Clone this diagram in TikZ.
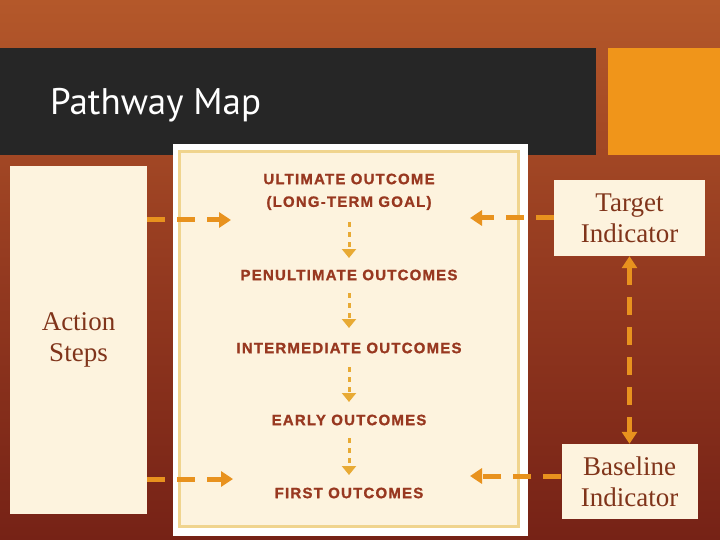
\documentclass[tikz,border=0pt]{standalone}
\usepackage{fontspec}
\setmainfont{Liberation Serif}
\newfontfamily\titlefont{PT Sans}
\newfontfamily\outfont[LetterSpace=8,FakeBold=1.2]{Liberation Sans Bold}
\usetikzlibrary{arrows.meta}
\definecolor{bgtop}{RGB}{180,88,42}
\definecolor{bgmid}{RGB}{148,58,32}
\definecolor{bgbot}{RGB}{118,34,22}
\definecolor{titlebar}{RGB}{38,38,38}
\definecolor{accent}{RGB}{240,149,26}
\definecolor{cream}{RGB}{253,243,222}
\definecolor{innerborder}{RGB}{240,212,142}
\definecolor{outred}{RGB}{152,56,32}
\definecolor{boxtext}{RGB}{128,52,26}
\definecolor{arroworange}{RGB}{232,146,30}
\definecolor{arrowgold}{RGB}{232,170,52}
\tikzset{
  outcome/.style={font=\outfont\fontsize{15}{17}\selectfont, text=outred, inner sep=0pt},
  infobox/.style={fill=cream, text=boxtext, font=\fontsize{27}{31}\selectfont, align=center, inner sep=0pt},
  bigarrow/.style={draw=arroworange, line width=5pt, dash pattern=on 18pt off 12pt, -{Triangle[length=12pt,width=15pt]}},
  smallarrow/.style={draw=arrowgold, line width=3pt, dash pattern=on 5pt off 5pt, -{Triangle[length=9pt,width=14pt]}}
}
\begin{document}
\begin{tikzpicture}[x=1pt,y=-1pt]
\useasboundingbox (0,0) rectangle (720,540);
% background
\fill[top color=bgtop, bottom color=bgbot, middle color=bgmid] (0,0) rectangle (720,540);
% title bar and accent
\fill[titlebar] (0,48) rectangle (596,155);
\fill[accent] (608,48) rectangle (720,155);
\node[anchor=base west, inner sep=0pt, text=white, font=\titlefont\fontsize{37}{42}\selectfont] (title) at (50,115) {Pathway Map};
% central panel
\fill[white] (173,144) rectangle (528,536);
\filldraw[fill=cream, draw=innerborder, line width=3pt] (179.5,151.5) rectangle (518.5,526.5);
% outcomes
\node[outcome] (ult) at (349,179) {ULTIMATE OUTCOME};
\node[outcome] (goal) at (349,203) {(LONG-TERM GOAL)};
\node[outcome] (penult) at (349,275) {PENULTIMATE OUTCOMES};
\node[outcome] (inter) at (349,348) {INTERMEDIATE OUTCOMES};
\node[outcome] (early) at (349,420) {EARLY OUTCOMES};
\node[outcome] (first) at (349,493) {FIRST OUTCOMES};
\draw[smallarrow] ([yshift=-19pt]goal.center) -- ([yshift=17pt]penult.center);
\draw[smallarrow] ([yshift=-18pt]penult.center) -- ([yshift=20pt]inter.center);
\draw[smallarrow] ([yshift=-19pt]inter.center) -- ([yshift=18pt]early.center);
\draw[smallarrow] ([yshift=-18pt]early.center) -- ([yshift=18pt]first.center);
% side boxes
\node[infobox, minimum width=137pt, minimum height=348pt] (action) at (78.5,340) {Action\\Steps};
\node[infobox, minimum width=151pt, minimum height=76pt] (target) at (629.5,218) {Target\\Indicator};
\node[infobox, minimum width=136pt, minimum height=75pt] (baseline) at (629.5,481.5) {Baseline\\Indicator};
% connectors
\coordinate (tl) at (231,220);
\coordinate (tr) at (470,218);
\coordinate (bl) at (233,479);
\coordinate (br) at (470,476);
\draw[bigarrow] (action.east |- tl) -- (tl);
\draw[bigarrow] (target.west |- tr) -- (tr);
\draw[bigarrow] (action.east |- bl) -- (bl);
\draw[bigarrow] (baseline.west |- br) -- (br);
\draw[bigarrow, {Triangle[length=12pt,width=15pt]}-{Triangle[length=12pt,width=15pt]}] (target.south) -- (baseline.north);
\end{tikzpicture}
\end{document}
